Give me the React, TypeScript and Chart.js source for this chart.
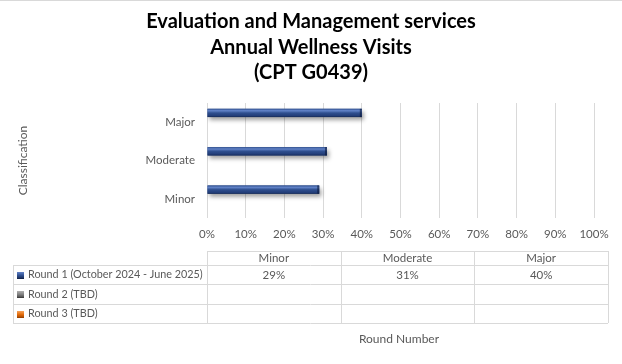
import React, { useEffect, useRef } from "react";
import { Chart, registerables } from "chart.js";

Chart.register(...registerables);

const titleLines = ["Evaluation and Management services", "Annual Wellness Visits", "(CPT G0439)"];
const categories = ["Minor", "Moderate", "Major"];
const seriesLabels = ["Round 1 (October 2024 - June 2025)", "Round 2 (TBD)", "Round 3 (TBD)"];
const round1 = [29, 31, 40];
const round2: (number | null)[] = [null, null, null];
const round3: (number | null)[] = [null, null, null];
const xTickValues = [0, 10, 20, 30, 40, 50, 60, 70, 80, 90, 100];
const yAxisTitle = "Classification";
const tableAxisTitle = "Round Number";

const FONT = "Lato, 'Liberation Sans', sans-serif";
const TEXT = "#595959";
const seriesColors = ["#2f4f8f", "#7f7f7f", "#e46c0a"];
const seriesLight = ["#6283c8", "#b0b0b0", "#f6a35c"];
const seriesDark = ["#14264f", "#404040", "#9c4300"];

const barDecor = {
  id: "barDecor",
  beforeDatasetDraw(chart: any) {
    const ctx = chart.ctx;
    ctx.save();
    ctx.shadowColor = "rgba(0,0,0,0.38)";
    ctx.shadowBlur = 4;
    ctx.shadowOffsetX = 2;
    ctx.shadowOffsetY = 3;
  },
  afterDatasetDraw(chart: any, args: any) {
    const ctx = chart.ctx;
    ctx.restore();
    const meta = args.meta;
    const i = args.index;
    meta.data.forEach((el: any) => {
      const p = el.getProps(["x", "y", "base", "height"], true);
      if (p.x == null || isNaN(p.x) || Math.abs(p.x - p.base) < 0.5) return;
      const top = p.y - p.height / 2;
      const left = Math.min(p.x, p.base);
      const w = Math.abs(p.x - p.base);
      const g = ctx.createLinearGradient(0, top, 0, top + p.height);
      g.addColorStop(0, seriesColors[i]);
      g.addColorStop(0.22, seriesLight[i]);
      g.addColorStop(0.5, seriesColors[i]);
      g.addColorStop(0.85, "#223d78");
      g.addColorStop(1, seriesDark[i]);
      ctx.save();
      ctx.fillStyle = g;
      ctx.fillRect(left, top, w, p.height);
      ctx.fillStyle = "rgba(10,20,50,0.55)";
      ctx.fillRect(left + w - 2, top, 2, p.height);
      ctx.restore();
    });
  },
};

const decorPlugin = {
  id: "decor",
  afterDraw(chart: any) {
    const ctx = chart.ctx;
    const colLeft = chart.chartArea.left;
    const colRight = 608;
    const labelLeft = 13;
    const colW = (colRight - colLeft) / categories.length;
    const rows = [251, 265, 284, 304, 323];
    ctx.save();
    ctx.fillStyle = "#d9d9d9";
    ctx.fillRect(0, 0, chart.width, 1);

    // title
    ctx.fillStyle = "#000000";
    ctx.font = `bold 20px ${FONT}`;
    ctx.textAlign = "center";
    ctx.textBaseline = "middle";
    const titleY = [22, 47.5, 73];
    titleLines.forEach((t, i) => ctx.fillText(t, chart.width / 2, titleY[i]));

    ctx.strokeStyle = "#d9d9d9";
    ctx.lineWidth = 1;
    const hLine = (y: number, x1: number, x2: number) => {
      ctx.beginPath();
      ctx.moveTo(x1, y + 0.5);
      ctx.lineTo(x2, y + 0.5);
      ctx.stroke();
    };
    const vLine = (x: number, y1: number, y2: number) => {
      ctx.beginPath();
      ctx.moveTo(x + 0.5, y1);
      ctx.lineTo(x + 0.5, y2);
      ctx.stroke();
    };
    hLine(rows[0], colLeft, colRight);
    for (let r = 1; r < rows.length; r++) hLine(rows[r], labelLeft, colRight);
    vLine(labelLeft, rows[1], rows[4]);
    for (let c = 0; c <= categories.length; c++) {
      vLine(Math.round(colLeft + c * colW), rows[0], rows[4]);
    }

    ctx.font = `11.5px ${FONT}`;
    ctx.textBaseline = "middle";
    ctx.textAlign = "center";
    ctx.fillStyle = TEXT;
    categories.forEach((c, ci) => {
      ctx.fillText(c, colLeft + ci * colW + colW / 2, (rows[0] + rows[1]) / 2 + 0.5);
    });

    const series = [round1, round2, round3];
    series.forEach((vals, si) => {
      const cy = (rows[si + 1] + rows[si + 2]) / 2 + 0.5;
      const kx = 17, ky = Math.round(cy - 3.5), ks = 7;
      const g = ctx.createLinearGradient(0, ky, 0, ky + ks);
      g.addColorStop(0, seriesLight[si]);
      g.addColorStop(0.5, seriesColors[si]);
      g.addColorStop(1, seriesDark[si]);
      ctx.fillStyle = g;
      ctx.fillRect(kx, ky, ks, ks);
      ctx.fillStyle = seriesDark[si];
      ctx.fillRect(kx, ky + ks - 1, ks, 1);
      ctx.fillStyle = TEXT;
      ctx.textAlign = "left";
      ctx.font = `10.8px ${FONT}`;
      ctx.fillText(seriesLabels[si], 28, cy);
      ctx.font = `11.5px ${FONT}`;
      ctx.textAlign = "center";
      vals.forEach((v, ci) => {
        if (v == null) return;
        ctx.fillText(`${v}%`, colLeft + ci * colW + colW / 2, cy);
      });
    });

    ctx.fillStyle = TEXT;
    ctx.font = `12px ${FONT}`;
    ctx.fillText(tableAxisTitle, 399, 339);
    ctx.restore();
  },
};

export default function App() {
  const ref = useRef<HTMLCanvasElement>(null);
  useEffect(() => {
    document.body.style.margin = "0";
    const canvas = ref.current!;
    const chart = new Chart(canvas, {
      type: "bar",
      data: {
        labels: categories,
        datasets: [
          { label: seriesLabels[0], data: round1, backgroundColor: seriesColors[0] },
          { label: seriesLabels[1], data: round2, backgroundColor: seriesColors[1] },
          { label: seriesLabels[2], data: round3, backgroundColor: seriesColors[2] },
        ],
      },
      options: {
        indexAxis: "y",
        responsive: false,
        animation: false,
        devicePixelRatio: 1,
        layout: { padding: { left: 0, right: 28, top: 103, bottom: 116 } },
        datasets: { bar: { categoryPercentage: 0.72, barPercentage: 0.9 } },
        plugins: {
          legend: { display: false },
          tooltip: { enabled: false },
          title: { display: false },
        },
        scales: {
          x: {
            type: "linear",
            min: 0,
            max: 100,
            afterBuildTicks: (scale: any) => {
              scale.ticks = xTickValues.map((v) => ({ value: v }));
            },
            afterFit: (scale: any) => {
              scale.height = 30;
            },
            grid: { color: "#d9d9d9", drawTicks: false },
            border: { display: false },
            ticks: {
              padding: 9,
              color: TEXT,
              font: { family: FONT, size: 11.5 },
              callback: (v: any) => `${v}%`,
            },
          },
          y: {
            type: "category",
            reverse: true,
            afterFit: (scale: any) => {
              scale.width = 207;
            },
            grid: { display: false, drawTicks: false },
            border: { display: false },
            ticks: {
              padding: 12,
              color: TEXT,
              font: { family: FONT, size: 11.5 },
            },
            title: {
              display: true,
              text: yAxisTitle,
              color: TEXT,
              font: { family: FONT, size: 12 },
              padding: { top: 16, bottom: 0 },
            },
          },
        },
      },
      plugins: [barDecor, decorPlugin],
    });
    return () => chart.destroy();
  }, []);
  return <canvas ref={ref} width={622} height={364} style={{ display: "block" }} />;
}
